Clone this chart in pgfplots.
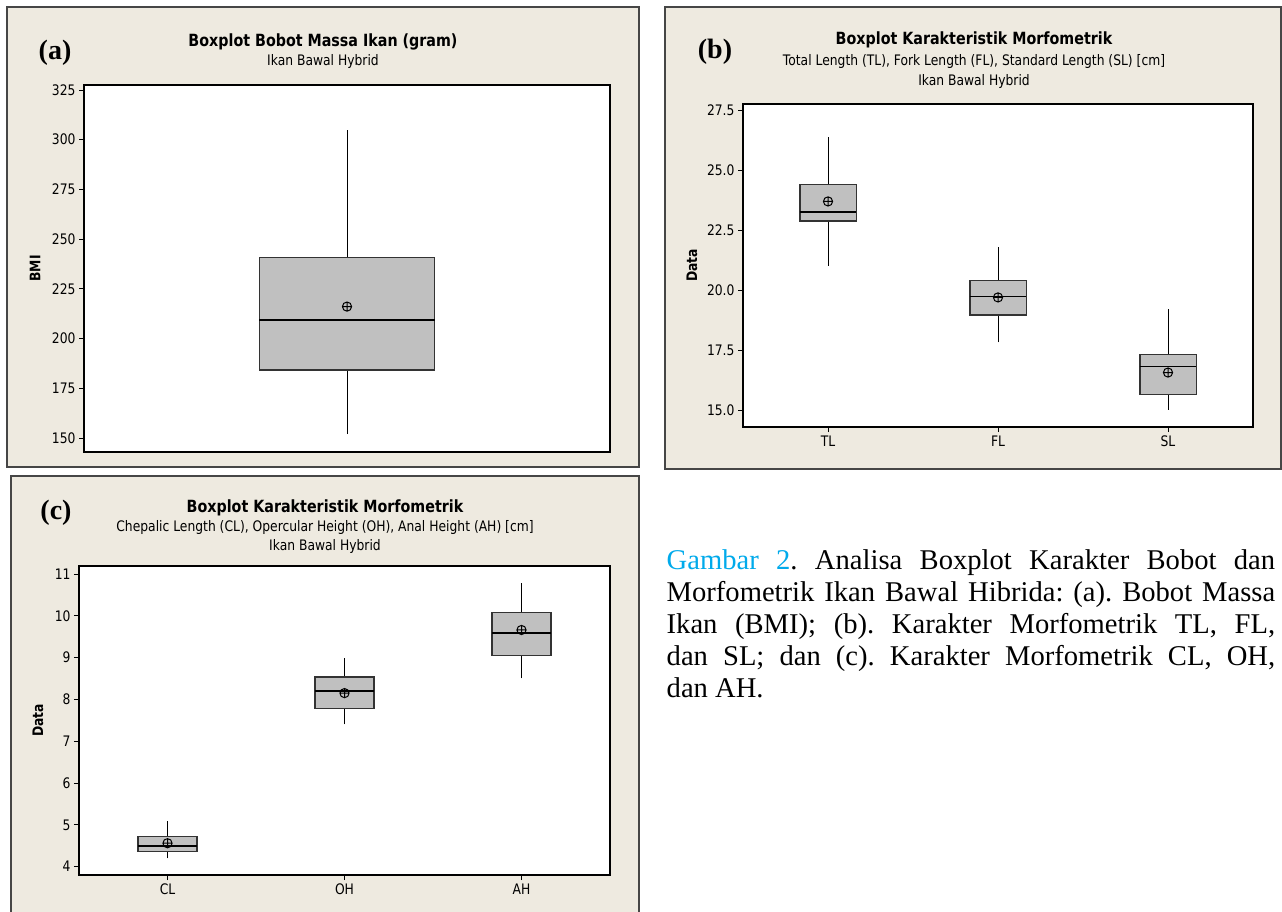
\documentclass[border=0pt]{standalone}
\usepackage{fontspec}
\setmainfont{Liberation Serif}
\newfontfamily\mt[FakeStretch=0.85]{DejaVu Sans}
\usepackage{pgfplots}
\pgfplotsset{compat=1.18}
\definecolor{panelbg}{RGB}{238,234,224}
\definecolor{boxgray}{RGB}{192,192,192}
\definecolor{framegray}{RGB}{70,70,70}
\definecolor{capblue}{RGB}{0,170,235}

\pgfplotsset{
  mtbox/.style={
    scale only axis,
    axis background/.style={fill=white},
    axis line style={black, line width=1.3pt},
    tick style={black, line width=0.9pt},
    major tick length=5pt,
    tick align=outside,
    tick pos=left,
    every tick label/.append style={font=\mt\fontsize{14.5}{17}\selectfont, text=black},
    /pgf/number format/assume math mode=true,
    ylabel style={font=\mt\bfseries\fontsize{14.5}{17}\selectfont, at={(axis description cs:0,0.5)}, anchor=center},
  },
  whisk/.style={black, line width=0.9pt, no markers},
  boxs/.style={draw=black!80, fill=boxgray, line width=1.6pt, line join=miter, no markers},
  med/.style={black, line width=1.5pt, no markers},
  meanmark/.style={only marks, mark=oplus, mark size=4.6pt, mark options={draw=black, fill=boxgray, line width=1pt}},
}

\begin{document}
\begin{tikzpicture}
\path[use as bounding box] (0pt,0pt) rectangle (1282pt,-911pt);
\fill[white] (0pt,0pt) rectangle (1282pt,-911pt);

% panel frames
\draw[framegray, line width=1.6pt, fill=panelbg] (7pt,-7pt) rectangle (639pt,-467pt);
\draw[framegray, line width=1.6pt, fill=panelbg] (665pt,-7pt) rectangle (1281pt,-469pt);
\draw[framegray, line width=1.6pt, fill=panelbg] (11pt,-476pt) rectangle (639pt,-930pt);

% panel letters
\node[font=\bfseries\fontsize{28}{30}\selectfont] at (55pt,-53pt) {(a)};
\node[font=\bfseries\fontsize{28}{30}\selectfont] at (715pt,-52pt) {(b)};
\node[font=\bfseries\fontsize{28}{30}\selectfont] at (56pt,-513pt) {(c)};

% titles
\node[font=\mt\bfseries\fontsize{16.8}{19}\selectfont] at (323pt,-42pt) {Boxplot Bobot Massa Ikan (gram)};
\node[font=\mt\fontsize{14.5}{17}\selectfont] at (323pt,-61pt) {Ikan Bawal Hybrid};

\node[font=\mt\bfseries\fontsize{16.8}{19}\selectfont] at (974pt,-40pt) {Boxplot Karakteristik Morfometrik};
\node[font=\mt\fontsize{14.5}{17}\selectfont] at (974pt,-61pt) {Total Length (TL), Fork Length (FL), Standard Length (SL) [cm]};
\node[font=\mt\fontsize{14.5}{17}\selectfont] at (974pt,-81pt) {Ikan Bawal Hybrid};

\node[font=\mt\bfseries\fontsize{16.8}{19}\selectfont] at (325pt,-508pt) {Boxplot Karakteristik Morfometrik};
\node[font=\mt\fontsize{14.5}{17}\selectfont] at (325pt,-527pt) {Chepalic Length (CL), Opercular Height (OH), Anal Height (AH) [cm]};
\node[font=\mt\fontsize{14.5}{17}\selectfont] at (325pt,-546pt) {Ikan Bawal Hybrid};

% (a)
\begin{axis}[mtbox, at={(84pt,-452pt)}, anchor=south west, width=526pt, height=367pt,
  xmin=0.5, xmax=1.5, ymin=143, ymax=327.5,
  xtick=\empty, ytick={150,175,200,225,250,275,300,325},
  ylabel={BMI}, ylabel style={yshift=49pt}]
\addplot[whisk] coordinates {(1,152) (1,184.2)};
\addplot[whisk] coordinates {(1,240.8) (1,305)};
\addplot[boxs] coordinates {(0.8335,184.2) (1.1665,184.2) (1.1665,240.8) (0.8335,240.8)} -- cycle;
\addplot[med] coordinates {(0.8335,209.3) (1.1665,209.3)};
\addplot[meanmark] coordinates {(1,216.1)};
\end{axis}

% (b)
\begin{axis}[mtbox, at={(743pt,-427pt)}, anchor=south west, width=510pt, height=323pt,
  xmin=0.5, xmax=3.5, ymin=14.29, ymax=27.75,
  xtick={1,2,3}, xticklabels={TL,FL,SL},
  ytick={15,17.5,20,22.5,25,27.5},
  yticklabel style={/pgf/number format/.cd, fixed, fixed zerofill, precision=1},
  ylabel={Data}, ylabel style={yshift=51pt}]
% TL
\addplot[whisk] coordinates {(1,21.0) (1,22.88)};
\addplot[whisk] coordinates {(1,24.39) (1,26.39)};
\addplot[boxs] coordinates {(0.8335,22.88) (1.1665,22.88) (1.1665,24.39) (0.8335,24.39)} -- cycle;
\addplot[med] coordinates {(0.8335,23.24) (1.1665,23.24)};
% FL
\addplot[whisk] coordinates {(2,17.82) (2,18.96)};
\addplot[whisk] coordinates {(2,20.40) (2,21.81)};
\addplot[boxs] coordinates {(1.8335,18.96) (2.1665,18.96) (2.1665,20.40) (1.8335,20.40)} -- cycle;
\addplot[med] coordinates {(1.8335,19.72) (2.1665,19.72)};
% SL
\addplot[whisk] coordinates {(3,15.0) (3,15.64)};
\addplot[whisk] coordinates {(3,17.31) (3,19.19)};
\addplot[boxs] coordinates {(2.8335,15.64) (3.1665,15.64) (3.1665,17.31) (2.8335,17.31)} -- cycle;
\addplot[med] coordinates {(2.8335,16.81) (3.1665,16.81)};
\addplot[meanmark] coordinates {(1,23.69) (2,19.69) (3,16.56)};
\end{axis}

% (c)
\begin{axis}[mtbox, at={(79pt,-875pt)}, anchor=south west, width=531pt, height=309pt,
  xmin=0.5, xmax=3.5, ymin=3.80, ymax=11.19,
  xtick={1,2,3}, xticklabels={CL,OH,AH},
  ytick={4,5,6,7,8,9,10,11},
  ylabel={Data}, ylabel style={yshift=41pt}]
% CL
\addplot[whisk] coordinates {(1,4.20) (1,4.36)};
\addplot[whisk] coordinates {(1,4.72) (1,5.10)};
\addplot[boxs] coordinates {(0.8335,4.36) (1.1665,4.36) (1.1665,4.72) (0.8335,4.72)} -- cycle;
\addplot[med] coordinates {(0.8335,4.49) (1.1665,4.49)};
% OH
\addplot[whisk] coordinates {(2,7.40) (2,7.78)};
\addplot[whisk] coordinates {(2,8.54) (2,8.98)};
\addplot[boxs] coordinates {(1.8335,7.78) (2.1665,7.78) (2.1665,8.54) (1.8335,8.54)} -- cycle;
\addplot[med] coordinates {(1.8335,8.20) (2.1665,8.20)};
% AH
\addplot[whisk] coordinates {(3,8.50) (3,9.05)};
\addplot[whisk] coordinates {(3,10.08) (3,10.78)};
\addplot[boxs] coordinates {(2.8335,9.05) (3.1665,9.05) (3.1665,10.08) (2.8335,10.08)} -- cycle;
\addplot[med] coordinates {(2.8335,9.59) (3.1665,9.59)};
\addplot[meanmark] coordinates {(1,4.56) (2,8.15) (3,9.66)};
\end{axis}

% caption
\node[anchor=base west, inner sep=0pt] at (666.5pt,-569pt) {\parbox[t]{608.5pt}{\fontsize{28.6}{32}\selectfont\parindent=0pt\frenchspacing%
\noindent{\color{capblue}Gambar 2}. Analisa Boxplot Karakter Bobot dan\linebreak
Morfometrik Ikan Bawal Hibrida: (a). Bobot Massa\linebreak
Ikan (BMI); (b). Karakter Morfometrik TL, FL,\linebreak
dan SL; dan (c). Karakter Morfometrik CL, OH,\linebreak
dan AH.}};
\end{tikzpicture}
\end{document}
